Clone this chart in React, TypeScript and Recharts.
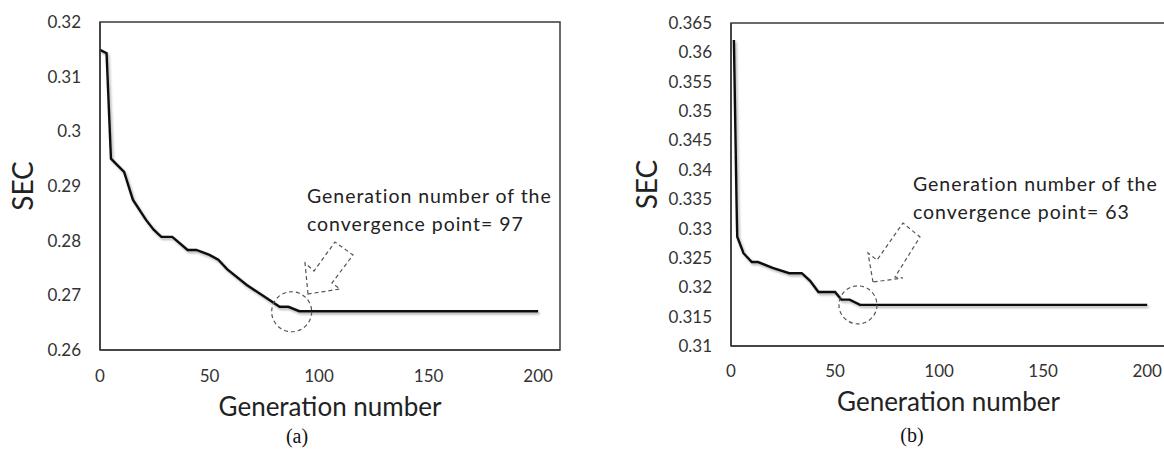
import { LineChart, Line, XAxis, YAxis, ReferenceArea, ReferenceDot } from 'recharts'

// panel (a)
const genA = [0, 3, 5, 11, 15, 21, 24.5, 28, 33, 40, 44, 50, 54, 58, 67, 76, 82, 86, 91, 200]
const secA = [0.3149, 0.3143, 0.295, 0.2926, 0.2875, 0.2838, 0.282, 0.2807, 0.2807, 0.2783, 0.2783, 0.2774, 0.2765, 0.2748, 0.2719, 0.2695, 0.2679, 0.2679, 0.2671, 0.2671]
const ticksA = [0.26, 0.27, 0.28, 0.29, 0.3, 0.31, 0.32]

// panel (b)
const genB = [1.4, 2.7, 3, 6, 10, 13, 20, 28, 34, 38, 42, 50, 53, 57, 62, 200]
const secB = [0.3621, 0.3337, 0.3286, 0.3258, 0.3243, 0.3243, 0.3233, 0.3224, 0.3224, 0.3211, 0.3192, 0.3192, 0.3179, 0.3179, 0.317, 0.317]
const ticksB = [0.31, 0.315, 0.32, 0.325, 0.33, 0.335, 0.34, 0.345, 0.35, 0.355, 0.36, 0.365]

const genTicks = [0, 50, 100, 150, 200]
const axisColor = '#3a3a3a'
const textColor = '#333'
const fmt = (v: number) => String(+v.toFixed(3))

const dataA = genA.map((g, i) => ({ gen: g, sec: secA[i] }))
const dataB = genB.map((g, i) => ({ gen: g, sec: secB[i] }))

function Panel({ data, ticks, yDomain, yAxisWidth, width, margin, tickMarginX, labelOffsetX, secDx, xLabelDx, dot }: any) {
  return (
    <LineChart width={width} height={450} data={data} margin={margin}>
      <XAxis
        dataKey="gen"
        type="number"
        domain={[0, 210]}
        ticks={genTicks}
        height={30}
        tickLine={false}
        tickMargin={tickMarginX}
        axisLine={{ stroke: axisColor, strokeWidth: 1.5 }}
        tick={{ fontSize: 17, fill: textColor }}
        label={{ value: 'Generation number', position: 'bottom', offset: labelOffsetX, dx: xLabelDx, fontSize: 26, fill: '#222' }}
      />
      <YAxis
        type="number"
        domain={yDomain}
        ticks={ticks}
        width={yAxisWidth}
        tickLine={false}
        tickMargin={13}
        tickFormatter={fmt}
        axisLine={{ stroke: axisColor, strokeWidth: 1.5 }}
        tick={{ fontSize: 17, fill: textColor }}
        label={{ value: 'SEC', angle: -90, position: 'center', dx: secDx, fontSize: 28, fill: '#222' }}
      />
      <ReferenceArea x1={0} x2={210} y1={yDomain[0]} y2={yDomain[1]} fill="none" stroke={axisColor} strokeWidth={1.5} ifOverflow="extendDomain" />
      <Line
        dataKey="sec"
        stroke="#111"
        strokeWidth={2.4}
        dot={false}
        isAnimationActive={false}
        filter="url(#lineShadow)"
      />
      <ReferenceDot x={dot.x} y={dot.y} r={dot.r} fill="none" stroke="#555" strokeWidth={1.2} strokeDasharray="4 3" />
    </LineChart>
  )
}

export default function App() {
  return (
    <div style={{ position: 'absolute', left: 0, top: 0, width: 1164, height: 450, overflow: 'hidden', background: '#fff', fontFamily: 'Lato, sans-serif' }}>
      <svg width={0} height={0} style={{ position: 'absolute' }}>
        <defs>
          <filter id="lineShadow" x="-10%" y="-10%" width="120%" height="130%">
            <feDropShadow dx={1.5} dy={2} stdDeviation={1.2} floodColor="#000" floodOpacity={0.3} />
          </filter>
        </defs>
      </svg>
      <div style={{ position: 'absolute', left: 0, top: 0 }}>
        <Panel
          data={dataA}
          ticks={ticksA}
          yDomain={[0.26, 0.32]}
          yAxisWidth={100}
          width={580}
          margin={{ top: 22, right: 20, bottom: 70, left: 0 }}
          tickMarginX={14}
          labelOffsetX={18}
          secDx={-27}
          xLabelDx={0}
          dot={{ x: 87.5, y: 0.267, r: 20 }}
        />
      </div>
      <div style={{ position: 'absolute', left: 580, top: 0 }}>
        <Panel
          data={dataB}
          ticks={ticksB}
          yDomain={[0.31, 0.365]}
          yAxisWidth={151}
          width={590}
          margin={{ top: 23, right: 2, bottom: 74, left: 0 }}
          tickMarginX={13}
          labelOffsetX={17}
          secDx={-8}
          xLabelDx={-1}
          dot={{ x: 61, y: 0.317, r: 19 }}
        />
      </div>
      <svg width={1164} height={450} style={{ position: 'absolute', left: 0, top: 0, pointerEvents: 'none' }}>
        <g fill="none" stroke="#555" strokeWidth={1.2} strokeDasharray="4 3">
          <polygon points="308,294 305,263 314,271 335,242 353,255 332,283 340,289" />
          <polygon points="873,282 868,253 877,260 903,223 920,237 895,277 903,278" />
        </g>
        <g fontFamily="Lato, sans-serif" fontSize={19.5} letterSpacing={0.95} fill="#222" dominantBaseline="central">
          <text x={307} y={195}>Generation number of the</text>
          <text x={307} y={223}>convergence point= 97</text>
          <text x={913} y={183}>Generation number of the</text>
          <text x={913} y={211}>convergence point= 63</text>
        </g>
        <g fontFamily="'Liberation Serif', serif" fontSize={20} fill="#111" textAnchor="middle" dominantBaseline="central">
          <text x={297} y={436}>(a)</text>
          <text x={912} y={435}>(b)</text>
        </g>
      </svg>
    </div>
  )
}
